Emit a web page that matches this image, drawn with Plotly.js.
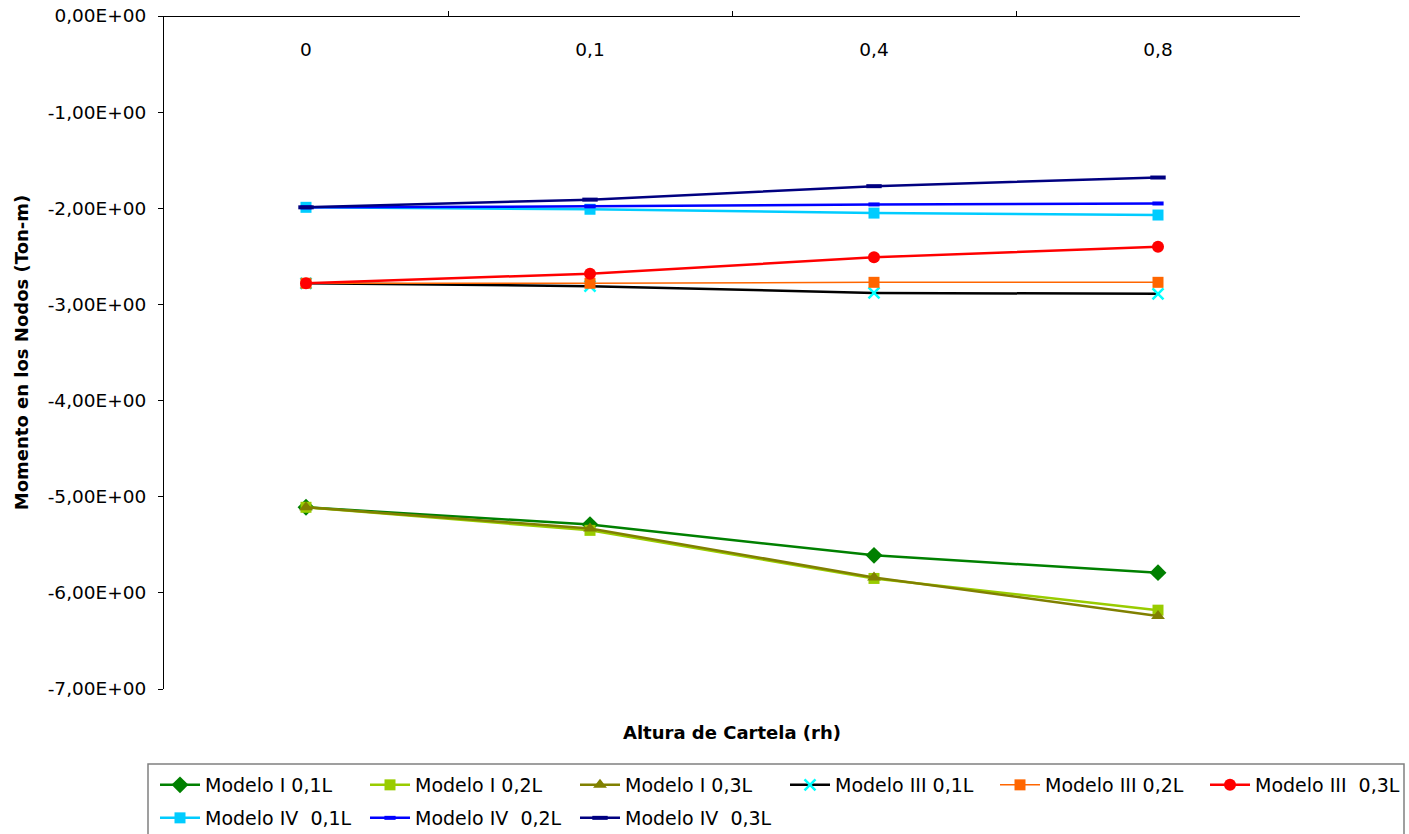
<!DOCTYPE html>
<html>
<head>
<meta charset="utf-8">
<script src="https://cdn.plot.ly/plotly-3.0.1.min.js"></script>
<style>html,body{margin:0;padding:0;background:#fff;}#chart{width:1409px;height:834px;}</style>
</head>
<body>
<div id="chart"></div>
<script>
const categories = ["0", "0,1", "0,4", "0,8"];
const seriesNames = ["Modelo I 0,1L", "Modelo I 0,2L", "Modelo I 0,3L", "Modelo III 0,1L", "Modelo III 0,2L", "Modelo III  0,3L", "Modelo IV  0,1L", "Modelo IV  0,2L", "Modelo IV  0,3L"];
const modeloI_01 = [-5.11, -5.29, -5.61, -5.79];
const modeloI_02 = [-5.11, -5.35, -5.85, -6.18];
const modeloI_03 = [-5.11, -5.33, -5.84, -6.24];
const modeloIII_01 = [-2.78, -2.81, -2.88, -2.89];
const modeloIII_02 = [-2.78, -2.78, -2.77, -2.77];
const modeloIII_03 = [-2.78, -2.68, -2.51, -2.40];
const modeloIV_01 = [-1.99, -2.01, -2.05, -2.07];
const modeloIV_02 = [-1.99, -1.98, -1.96, -1.95];
const modeloIV_03 = [-1.99, -1.91, -1.77, -1.68];
const yTickVals = [0, -1, -2, -3, -4, -5, -6, -7];
const yTickText = ["0,00E+00", "-1,00E+00", "-2,00E+00", "-3,00E+00", "-4,00E+00", "-5,00E+00", "-6,00E+00", "-7,00E+00"];

const values = [modeloI_01, modeloI_02, modeloI_03, modeloIII_01, modeloIII_02, modeloIII_03, modeloIV_01, modeloIV_02, modeloIV_03];
const styles = [
  {line: {color: "#008000", width: 2.5}, marker: {symbol: "diamond", size: 13, color: "#008000"}},
  {line: {color: "#99CC00", width: 2.5}, marker: {symbol: "square", size: 11, color: "#99CC00"}},
  {line: {color: "#808000", width: 2.5}, marker: {symbol: "triangle-up", size: 12, color: "#808000"}},
  {line: {color: "#000000", width: 2.5}, marker: {symbol: "x-thin-open", size: 11, color: "#00FFFF", line: {color: "#00FFFF", width: 2.5}}},
  {line: {color: "#FF6600", width: 1.5}, marker: {symbol: "square", size: 11, color: "#FF6600"}},
  {line: {color: "#FF0000", width: 2.5}, marker: {symbol: "circle", size: 12, color: "#FF0000"}},
  {line: {color: "#00CCFF", width: 2.5}, marker: {symbol: "square", size: 11, color: "#00CCFF"}},
  {line: {color: "#0000FF", width: 2.5}, marker: {symbol: "line-ew-open", size: 8, color: "#0000FF", line: {color: "#0000FF", width: 4}}},
  {line: {color: "#000080", width: 2.5}, marker: {symbol: "line-ew-open", size: 11, color: "#000080", line: {color: "#000080", width: 4}}}
];

const traces = values.map((v, i) => Object.assign({
  type: "scatter", mode: "lines+markers", x: categories, y: v, name: seriesNames[i],
  legend: i < 6 ? "legend" : "legend2"
}, styles[i]));

const PW = 1136, PH = 673;
const legendCommon = {
  orientation: "h", xanchor: "left", yanchor: "middle",
  borderwidth: 0, bgcolor: "rgba(0,0,0,0)",
  font: {size: 19, family: "DejaVu Sans, sans-serif", color: "#000"},
  entrywidth: 155, entrywidthmode: "pixels", itemwidth: 40
};

const layout = {
  width: 1409, height: 834,
  paper_bgcolor: "#fff", plot_bgcolor: "#fff",
  margin: {l: 164, r: 109, t: 16, b: 145, autoexpand: false},
  font: {family: "DejaVu Sans, sans-serif", color: "#000"},
  showlegend: true,
  xaxis: {
    type: "category", anchor: "free", position: 1, side: "bottom", range: [-0.5, 3.5],
    showline: true, linecolor: "#000", linewidth: 1,
    ticks: "inside", ticklen: 5, tickcolor: "#000", tickson: "boundaries",
    ticklabelstandoff: 17,
    tickfont: {size: 18.5, family: "DejaVu Sans, sans-serif"},
    showgrid: false, zeroline: false
  },
  yaxis: {
    range: [-7, 0], showline: true, linecolor: "#000", linewidth: 1,
    ticks: "outside", ticklen: 5, tickcolor: "#000",
    tickvals: yTickVals, ticktext: yTickText, ticklabelstandoff: 8,
    tickfont: {size: 18.5, family: "DejaVu Sans, sans-serif"},
    showgrid: false, zeroline: false,
    title: {text: "Momento en los Nodos (Ton-m)", font: {size: 18, family: "DejaVu Sans, sans-serif", weight: "bold"}, standoff: 14}
  },
  annotations: [{
    text: "<b>Altura de Cartela (rh)</b>", xref: "paper", yref: "paper",
    x: 0.5, y: -43 / PH, xanchor: "center", yanchor: "middle", showarrow: false,
    font: {size: 18, family: "DejaVu Sans, sans-serif"}
  }],
  shapes: [{
    type: "rect", xref: "paper", yref: "paper", layer: "above",
    x0: (148 - 164) / PW, x1: (1404 - 164) / PW,
    y0: (689 - 764) / PH, y1: (689 - 845) / PH,
    line: {color: "#808080", width: 1.5}, fillcolor: "rgba(0,0,0,0)"
  }],
  legend: Object.assign({x: (155 - 164) / PW, y: (689 - 785) / PH}, legendCommon),
  legend2: Object.assign({x: (155 - 164) / PW, y: (689 - 818) / PH}, legendCommon)
};

Plotly.newPlot("chart", traces, layout, {displayModeBar: false, staticPlot: true});
</script>
</body>
</html>
